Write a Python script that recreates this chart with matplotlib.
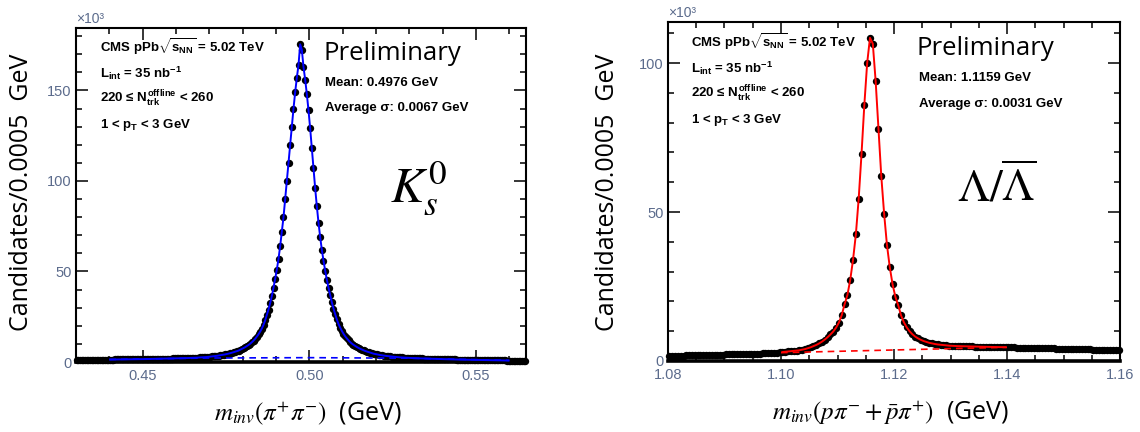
import numpy as np
import matplotlib
matplotlib.use("Agg")
import matplotlib.pyplot as plt
from matplotlib.ticker import MultipleLocator, FormatStrFormatter

W, H = 1140, 432

# K0s -> pi+ pi-, bins of 0.0005 GeV starting at 0.430 GeV, counts in 10^3
K0S_LO = 0.430
BIN = 0.0005
k0s_counts = [
    1.10, 1.12, 1.11, 1.14, 1.15, 1.14, 1.17, 1.18, 1.19, 1.21, 1.20, 1.23, 1.24, 1.25, 1.27, 1.26, 1.29, 1.30, 1.32, 1.33,
    1.35, 1.36, 1.37, 1.39, 1.40, 1.41, 1.43, 1.44, 1.45, 1.47, 1.48, 1.49, 1.51, 1.52, 1.53, 1.55, 1.56, 1.57, 1.58, 1.59,
    1.60, 1.62, 1.63, 1.65, 1.66, 1.68, 1.70, 1.71, 1.73, 1.75, 1.77, 1.79, 1.81, 1.83, 1.85, 1.88, 1.90, 1.92, 1.95, 1.97,
    2.00, 2.02, 2.05, 2.08, 2.11, 2.14, 2.17, 2.20, 2.24, 2.27, 2.30, 2.35, 2.40, 2.45, 2.50, 2.55, 2.60, 2.65, 2.75, 2.85,
    2.95, 3.05, 3.20, 3.30, 3.40, 3.55, 3.70, 3.85, 4.00, 4.20, 4.40, 4.60, 4.85, 5.10, 5.40, 5.70, 6.00, 6.30, 6.75, 7.20,
    7.7, 8.2, 8.8, 9.4, 10.1, 10.9, 11.8, 12.8, 14.0, 15.3, 16.8, 18.5, 20.5, 23.0, 26.0, 29.0, 32.5, 36.5, 41.0, 46.0,
    51, 57, 64, 72, 80, 90, 100, 110, 120, 130, 140, 149, 157, 164, 175.5,
    172.5, 163, 156, 148, 139, 129, 118, 107, 96, 86, 77, 69, 62, 56, 50.5, 45.5, 41, 37, 33, 29.5,
    26.5, 23.5, 21.0, 19.0, 17.2, 15.6, 14.2, 13.0, 11.9, 11.0, 10.2, 9.5, 8.9, 8.3, 7.8, 7.3, 6.9, 6.5, 6.1, 5.8,
    5.45, 5.15, 4.85, 4.60, 4.40, 4.20, 4.00, 3.85, 3.70, 3.55, 3.40, 3.30, 3.20, 3.10, 3.00, 2.90, 2.80, 2.72, 2.64, 2.56,
    2.50, 2.44, 2.38, 2.32, 2.27, 2.22, 2.18, 2.14, 2.10, 2.06, 2.02, 1.98, 1.95, 1.92, 1.89, 1.86, 1.83, 1.80, 1.77, 1.74,
    1.71, 1.68, 1.65, 1.62, 1.60, 1.57, 1.54, 1.52, 1.49, 1.47, 1.44, 1.42, 1.40, 1.37, 1.35, 1.33, 1.31, 1.29, 1.27, 1.25,
    1.23, 1.21, 1.19, 1.17, 1.15, 1.13, 1.11, 1.09, 1.07, 1.05, 1.03, 1.01, 0.99, 0.97, 0.96, 0.94, 0.92, 0.91, 0.89, 0.88,
    0.86, 0.85, 0.84, 0.82, 0.81, 0.80, 0.79, 0.78, 0.77, 0.76, 0.75, 0.74, 0.73, 0.72, 0.71,
]
k0s_fit_range = (0.44, 0.56)
k0s_bkg_mass = [0.44, 0.47, 0.50, 0.53, 0.56]
k0s_bkg = [1.4, 2.2, 2.4, 2.1, 0.9]

# Lambda -> p pi, bins of 0.0005 GeV starting at 1.080 GeV, counts in 10^3
LAM_LO = 1.080
lam_counts = [
    1.70, 1.72, 1.75, 1.77, 1.80, 1.82, 1.85, 1.87, 1.90, 1.92, 1.95, 1.97, 2.00, 2.02, 2.05, 2.07, 2.10, 2.12, 2.15, 2.17,
    2.20, 2.22, 2.25, 2.27, 2.30, 2.32, 2.35, 2.37, 2.40, 2.42, 2.45, 2.47, 2.50, 2.53, 2.56, 2.60, 2.65, 2.72, 2.80, 2.90,
    3.00, 3.10, 3.20, 3.30, 3.40, 3.50, 3.60, 3.80, 4.00, 4.30, 4.60, 5.00, 5.40, 5.90, 6.50, 7.20, 8.00, 8.90, 9.90, 11.2,
    12.9, 15.4, 19.0, 22.1, 27.2, 34.0, 42.5, 54.5, 69.5, 86.0, 100.0, 108.5,
    106.5, 94.0, 78.0, 62.0, 49.5, 39.0, 31.5, 25.7, 21.5, 18.7, 15.3, 13.0, 11.3, 10.0, 9.0, 8.2, 7.6, 7.1, 6.7, 6.4,
    6.1, 5.9, 5.7, 5.55, 5.45, 5.35, 5.25, 5.15, 5.10, 5.05, 5.00, 4.98, 4.95, 4.93, 4.90, 4.88, 4.85, 4.83, 4.80, 4.78,
    4.76, 4.74, 4.72, 4.70, 4.68, 4.66, 4.64, 4.62, 4.60, 4.58, 4.55, 4.52, 4.50, 4.47, 4.45, 4.42, 4.40, 4.37, 4.35, 4.32,
    4.30, 4.27, 4.25, 4.22, 4.20, 4.17, 4.15, 4.12, 4.10, 4.07, 4.05, 4.02, 4.00, 3.97, 3.95, 3.92, 3.90, 3.87, 3.85, 3.82,
    3.80, 3.77, 3.75, 3.72, 3.70, 3.67, 3.65, 3.62,
]
lam_fit_range = (1.10, 1.14)
lam_bkg_mass = [1.10, 1.14]
lam_bkg = [2.8, 4.6]

k0s_info = ["CMS pPb$\\sqrt{s_{NN}}$ = 5.02 TeV", "$L_{int}$ = 35 nb$^{-1}$",
            "220 \u2264 $N_{trk}^{offline}$ < 260", "1 < $p_{T}$ < 3 GeV"]
k0s_stats = ["Mean: 0.4976 GeV", "Average \u03c3: 0.0067 GeV"]
lam_stats = ["Mean: 1.1159 GeV", "Average \u03c3: 0.0031 GeV"]

TICK_COLOR = "#5b6b8c"
SANS = ["Liberation Sans", "DejaVu Sans"]
LABEL_FONT = ["Open Sans", "DejaVu Sans"]

plt.rcParams["font.family"] = SANS
plt.rcParams["mathtext.fontset"] = "custom"
plt.rcParams["mathtext.rm"] = "Liberation Sans:bold"
plt.rcParams["mathtext.it"] = "Liberation Sans:bold"
plt.rcParams["mathtext.bf"] = "Liberation Sans:bold"
plt.rcParams["mathtext.sf"] = "Liberation Sans:bold"


def fx(x):
    return x / W


def fy(y):
    return 1 - y / H


def centers(lo, n):
    return lo + (np.arange(n) + 0.5) * BIN


def style_axes(ax, xlim, ylim, xmajor, xminor, ymajor, yminor):
    ax.set_xlim(*xlim)
    ax.set_ylim(*ylim)
    ax.xaxis.set_major_locator(MultipleLocator(xmajor))
    ax.xaxis.set_minor_locator(MultipleLocator(xminor))
    ax.yaxis.set_major_locator(MultipleLocator(ymajor))
    ax.yaxis.set_minor_locator(MultipleLocator(yminor))
    ax.xaxis.set_major_formatter(FormatStrFormatter("%.2f"))
    ax.tick_params(which="both", direction="in", top=True, right=True,
                   color="black", labelcolor=TICK_COLOR, labelsize=10.5, width=1.1)
    ax.tick_params(which="major", length=8.6)
    ax.tick_params(which="minor", length=4.3)
    ax.tick_params(axis="x", pad=5)
    ax.tick_params(axis="y", pad=3)
    for side in ["top", "left", "right"]:
        ax.spines[side].set_linewidth(1.5)
    ax.spines["bottom"].set_linewidth(2.6)
    ax.text(0.0, 1.006, "\u00d710\u00b3", transform=ax.transAxes, ha="left", va="bottom",
            fontsize=10, color=TICK_COLOR)


def draw_panel(ax, lo, counts, fit_range, bkg_x, bkg_y, color):
    x = centers(lo, len(counts))
    y = np.array(counts)
    ax.plot(x, y, "o", color="black", ms=5.3, mew=0, clip_on=False, zorder=3)
    sel = (x >= fit_range[0]) & (x <= fit_range[1])
    ax.plot(x[sel], y[sel], "-", color=color, lw=1.4, zorder=4)
    ax.plot(bkg_x, bkg_y, "--", color=color, lw=1.2, dashes=(4, 3), zorder=4)


def panel_text(fig, x0, dy, stats, xs):
    for i, s in enumerate(k0s_info):
        fig.text(fx(x0), fy(52 + 25.4 * i + dy), s, ha="left", va="baseline",
                 fontsize=9.5, fontweight="bold", color="black")
    fig.text(fx(xs - 2), fy(60 + dy), "Preliminary", ha="left", va="baseline",
             fontsize=18.5, family=LABEL_FONT, color="black")
    for i, s in enumerate(stats):
        fig.text(fx(xs), fy(86 + 25.5 * i + dy), s, ha="left", va="baseline",
                 fontsize=9.5, fontweight="bold", color="black")


def main():
    fig = plt.figure(figsize=(W / 100, H / 100), dpi=100)

    ax1 = fig.add_axes([fx(76), fy(362), 450 / W, 334 / H])
    draw_panel(ax1, K0S_LO, k0s_counts, k0s_fit_range, k0s_bkg_mass, k0s_bkg, "#0000ff")
    style_axes(ax1, (0.430, 0.565), (0, 184.5), 0.05, 0.01, 50, 10)

    ax2 = fig.add_axes([fx(668), fy(361), 452 / W, 339 / H])
    draw_panel(ax2, LAM_LO, lam_counts, lam_fit_range, lam_bkg_mass, lam_bkg, "#ff0000")
    style_axes(ax2, (1.08, 1.16), (0, 113.8), 0.02, 0.005, 50, 10)

    panel_text(fig, 100, 0, k0s_stats, 325)
    panel_text(fig, 691, -5, lam_stats, 919)

    # particle symbols
    fig.text(fx(390), fy(202), r"$K_s^0$", ha="left", va="baseline", fontsize=36,
             math_fontfamily="stix", color="black")
    fig.text(fx(957), fy(202), r"$\Lambda/\overline{\Lambda}$", ha="left", va="baseline",
             fontsize=33, math_fontfamily="stix", color="black")

    # axis titles
    for xc in (22, 608):
        fig.text(fx(xc), fy(192), "Candidates/0.0005  GeV", rotation=90,
                 ha="center", va="center", fontsize=18, family=LABEL_FONT, color="black")
    fig.text(fx(308), fy(413), r"$m_{inv}(\pi^{+}\pi^{-})$  (GeV)", ha="center", va="center",
             fontsize=18, family=LABEL_FONT, math_fontfamily="stix", color="black")
    fig.text(fx(891), fy(413), r"$m_{inv}(p\pi^{-}+\bar{p}\pi^{+})$  (GeV)", ha="center",
             va="center", fontsize=18, family=LABEL_FONT, math_fontfamily="stix", color="black")

    fig.savefig("out.png", dpi=100)


if __name__ == "__main__":
    main()
